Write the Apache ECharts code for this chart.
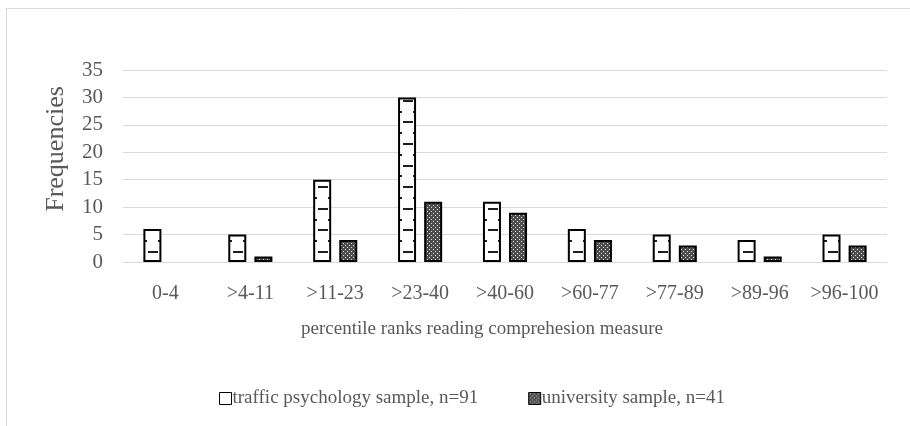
<!DOCTYPE html>
<html lang="en">
<head>
    <meta charset="UTF-8">
    <title>percentile ranks</title>
    <script src="https://cdn.jsdelivr.net/npm/echarts@6/dist/echarts.min.js"></script>
</head>
<body style="margin:0;">
    <div id="main" style="width: 910px;height:426px;"></div>
    <script type="text/javascript">
        // data
        var categories = ['0-4', '>4-11', '>11-23', '>23-40', '>40-60', '>60-77', '>77-89', '>89-96', '>96-100'];
        var trafficSample = [6, 5, 15, 30, 11, 6, 5, 4, 5];
        var universitySample = [0, 1, 4, 11, 9, 4, 3, 1, 3];
        var seriesNames = ['traffic psychology sample, n=91', 'university sample, n=41'];
        var yTicks = { min: 0, max: 35, interval: 5 };

        var serif = 'Liberation Serif';
        var textColor = '#595959';

        // white fill with short dashes (Excel "dashed horizontal" look)
        function dashPattern() {
            var c = document.createElement('canvas');
            c.width = 85; c.height = 108;
            var ctx = c.getContext('2d');
            ctx.fillStyle = '#fff';
            ctx.fillRect(0, 0, 85, 108);
            ctx.fillStyle = '#1e1e1e';
            var rowsA = [5, 27, 48, 70, 91];
            var rowsB = [16, 37, 59, 81, 102];
            var colsA = [5.5, 26.75, 48, 69.25];
            var colsB = [16.1, 37.4, 58.6, 79.9];
            rowsA.forEach(function (y) {
                colsA.forEach(function (x) { ctx.fillRect(Math.round(x - 5), y - 1, 10, 2); });
            });
            rowsB.forEach(function (y) {
                colsB.forEach(function (x) {
                    var x0 = Math.round(x - 5);
                    ctx.fillRect(x0, y - 1, 10, 2);
                    if (x0 + 10 > 85) ctx.fillRect(x0 - 85, y - 1, 10, 2);
                });
            });
            return { image: c, repeat: 'repeat', x: 147, y: 247 };
        }

        // dark grey with light dots
        function dotPattern() {
            var c = document.createElement('canvas');
            c.width = 4; c.height = 4;
            var ctx = c.getContext('2d');
            ctx.fillStyle = '#4d4d4d';
            ctx.fillRect(0, 0, 4, 4);
            ctx.fillStyle = '#e0e0e0';
            ctx.fillRect(1, 1, 1, 1);
            ctx.fillRect(3, 3, 1, 1);
            return { image: c, repeat: 'repeat' };
        }

        // Excel draws nothing for an empty bin
        function noZero(arr) {
            return arr.map(function (v) { return v === 0 ? null : v; });
        }

        var myChart = echarts.init(document.getElementById('main'));
        var option = {
            animation: false,
            backgroundColor: '#fff',
            textStyle: { fontFamily: serif },
            graphic: [{
                type: 'rect',
                shape: { x: 6.5, y: 8.5, width: 1000, height: 1000 },
                style: { fill: 'none', stroke: '#d9d9d9', lineWidth: 1 },
                silent: true
            }],
            grid: { left: 123, right: 23, top: 70, bottom: 164 },
            legend: {
                left: 214,
                top: 384,
                icon: 'rect',
                itemWidth: 12,
                itemHeight: 12,
                itemGap: 50,
                textStyle: { fontFamily: serif, fontSize: 19, color: textColor, padding: [0, 0, 0, -4] },
                itemStyle: { borderWidth: 1, borderColor: '#000' },
                data: [
                    { name: seriesNames[0], itemStyle: { color: '#fff' } },
                    { name: seriesNames[1] }
                ]
            },
            xAxis: {
                type: 'category',
                data: categories,
                axisTick: { show: false },
                axisLine: { lineStyle: { color: '#d9d9d9', width: 1 } },
                axisLabel: { fontFamily: serif, fontSize: 20, color: textColor, margin: 22, interval: 0 },
                name: 'percentile ranks reading comprehesion measure',
                nameLocation: 'middle',
                nameGap: 58,
                nameTextStyle: { fontFamily: serif, fontSize: 19, color: textColor, padding: [0, 46, 0, 0] }
            },
            yAxis: {
                type: 'value',
                min: yTicks.min,
                max: yTicks.max,
                interval: yTicks.interval,
                axisLabel: { fontFamily: serif, fontSize: 21, color: textColor, margin: 20 },
                splitLine: { lineStyle: { color: '#d9d9d9', width: 1 } },
                name: 'Frequencies',
                nameLocation: 'middle',
                nameGap: 54,
                nameRotate: 90,
                nameTextStyle: { fontFamily: serif, fontSize: 26, color: textColor, padding: [0, 0, 0, 34] }
            },
            series: [
                {
                    type: 'bar',
                    name: seriesNames[0],
                    data: noZero(trafficSample),
                    barWidth: 18,
                    barGap: '45%',
                    itemStyle: { color: dashPattern(), borderColor: '#000', borderWidth: 2 }
                },
                {
                    type: 'bar',
                    name: seriesNames[1],
                    data: noZero(universitySample),
                    barWidth: 18,
                    itemStyle: { color: dotPattern(), borderColor: '#000', borderWidth: 2 }
                }
            ]
        };
        myChart.setOption(option);
    </script>
</body>
</html>
